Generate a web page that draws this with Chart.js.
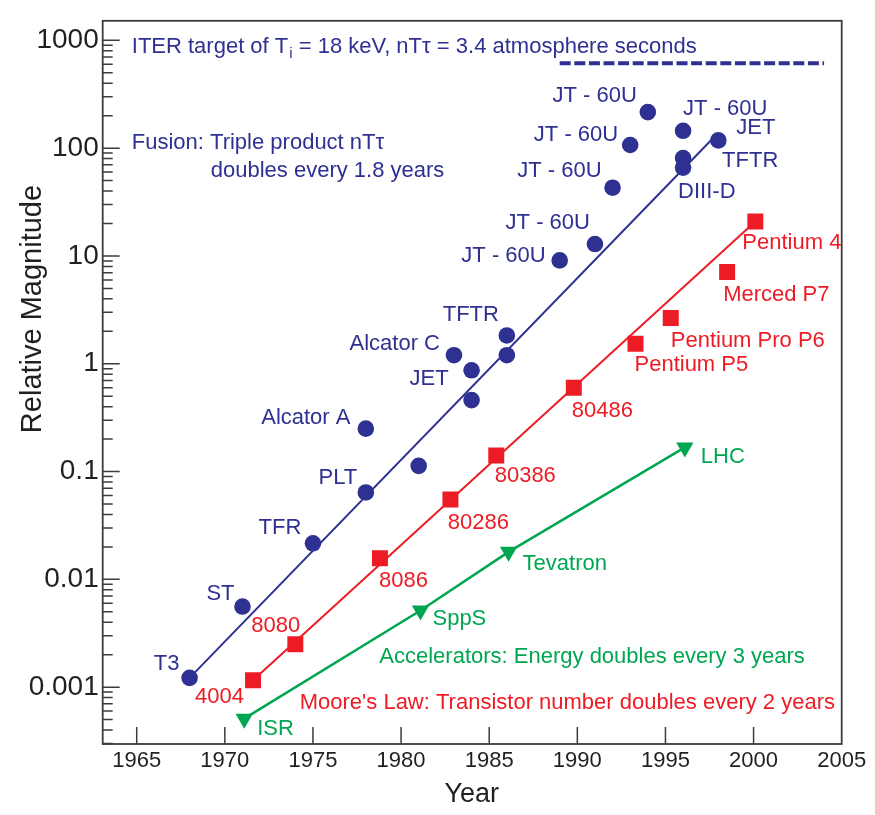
<!DOCTYPE html>
<html><head><meta charset="utf-8">
<script src="https://cdn.jsdelivr.net/npm/chart.js@4.4.0/dist/chart.umd.min.js"></script>
<style>html,body{margin:0;padding:0;background:#fff}</style>
</head><body>
<canvas id="c" width="875" height="815" style="display:block;width:875px;height:815px"></canvas>
<script>
// ---------- data ----------
const xTickYears = [1965,1970,1975,1980,1985,1990,1995,2000,2005];
const yTickValues = [0.001,0.01,0.1,1,10,100,1000];
const yTickLabels = ['0.001','0.01','0.1','1','10','100','1000'];

const fusionYears  = [1968,1971,1975,1978,1978,1981,1983,1984,1984,1986,1986,1989,1991,1992,1993,1994,1996,1996,1996,1998];
const fusionValues = [0.00122,0.0056,0.0216,0.064,0.25,0.113,1.2,0.87,0.46,1.83,1.2,9.1,12.9,43,107,216,145,81,66,118];
const fusionNames  = ['T3','ST','TFR','PLT','Alcator A','','Alcator C','JET','','TFTR','','JT - 60U','JT - 60U','JT - 60U','JT - 60U','JT - 60U','JT - 60U','TFTR','DIII-D','JET'];
const fusionTrendYears  = [1968.0, 1997.6];
const fusionTrendValues = [0.00122, 119];

const mooreYears  = [1971.6,1974.0,1978.8,1982.8,1985.4,1989.8,1993.3,1995.3,1998.5,2000.1];
const mooreValues = [0.00116,0.0025,0.0157,0.055,0.141,0.6,1.53,2.66,7.1,20.9];
const mooreNames  = ['4004','8080','8086','80286','80386','80486','Pentium P5','Pentium Pro P6','Merced P7','Pentium 4'];
const mooreTrendYears  = [1971.6, 2000.1];
const mooreTrendValues = [0.00116, 20.9];

const accelYears  = [1971.1,1981.1,1986.1,1996.1];
const accelValues = [0.00051,0.00514,0.018,0.1675];
const accelNames  = ['ISR','SppS','Tevatron','LHC'];

const iterYears  = [1989.0, 2004.0];
const iterValues = [614, 614];

// ---------- styling / layout ----------
const BLUE = '#2e3192', RED = '#ed1c24', GREEN = '#00a651', TXT = '#231f20', AX = '#3c3c3c';
const FONT = '"Liberation Sans", Arial, Helvetica, sans-serif';
const LFS = 22;

// [align, dx, dy] relative to the point pixel
const fusionLabelLayout = [
  ['center',-23,-14],['center',-22,-13],['center',-33,-15],['center',-28,-15],['center',-60,-11],null,
  ['right',-14,-11],['right',-23,9],null,['center',-36,-21],null,
  ['right',-14,-4],['right',-5,-21],['right',-11,-17],['right',-12,-10],['right',-11,-16],['left',0,-22],
  ['left',39,3],['left',-5,24],['left',18,-12]
];
const mooreLabelLayout = [
  ['center',-33.5,17],['center',-19.5,-18],['center',23.5,23],['center',28,23.5],['center',29,20],['center',28.5,23],
  ['left',-1,21],['left',0,22.5],['left',-4,23],['left',-13,21.7]
];
const accelLabelLayout = [['left',13,10],['left',12,8],['left',14,12],['left',16,10]];

const notes = [
  {text:'Fusion: Triple product nTτ', x:1964.72, y:111.5, align:'left', color:BLUE},
  {text:'doubles every 1.8 years', x:1969.2, y:62.1, align:'left', color:BLUE},
  {text:'Accelerators: Energy doubles every 3 years', x:2002.91, y:0.00191, align:'right', color:GREEN},
  {text:"Moore's Law: Transistor number doubles every 2 years", x:2004.62, y:0.000708, align:'right', color:RED}
];
const iterNote = {x:1964.72, y:869};

function pts(xs, ys){ return xs.map((x,i)=>({x:x, y:ys[i]})); }

function txt(ctx, s, px, py, align, color, fs){
  ctx.font = fs + 'px ' + FONT;
  ctx.fillStyle = color; ctx.textAlign = align; ctx.textBaseline = 'middle';
  ctx.fillText(s, px, py);
}

const decor = {
  id: 'decor',
  afterDatasetsDraw(chart){
    const ctx = chart.ctx, a = chart.chartArea, xs = chart.scales.x, ys = chart.scales.y;
    ctx.save();
    // ticks (inward)
    ctx.strokeStyle = AX; ctx.lineWidth = 1.5;
    ctx.beginPath();
    for (let d = -4; d <= 3; d++) {
      for (let m = 1; m <= 9; m++) {
        const v = m * Math.pow(10, d);
        if (v < ys.min || v > ys.max) continue;
        const py = ys.getPixelForValue(v);
        const len = (m === 1) ? 17 : 10;
        ctx.moveTo(a.left, py); ctx.lineTo(a.left + len, py);
      }
    }
    xTickYears.forEach(yr => {
      if (yr >= xs.max) return;
      const px = xs.getPixelForValue(yr);
      ctx.moveTo(px, a.bottom); ctx.lineTo(px, a.bottom - 17);
    });
    ctx.stroke();
    // frame
    ctx.lineWidth = 1.8;
    ctx.strokeRect(a.left, a.top, a.right - a.left, a.bottom - a.top);

    // point labels
    const lab = (xsA, ysA, names, layout, color) => {
      names.forEach((n, i) => {
        if (!n || !layout[i]) return;
        const px = xs.getPixelForValue(xsA[i]), py = ys.getPixelForValue(ysA[i]);
        txt(ctx, n, px + layout[i][1], py + layout[i][2], layout[i][0], color, LFS);
      });
    };
    lab(fusionYears, fusionValues, fusionNames, fusionLabelLayout, BLUE);
    lab(mooreYears, mooreValues, mooreNames, mooreLabelLayout, RED);
    lab(accelYears, accelValues, accelNames, accelLabelLayout, GREEN);

    notes.forEach(n => txt(ctx, n.text, xs.getPixelForValue(n.x), ys.getPixelForValue(n.y), n.align, n.color, LFS));

    // ITER note with subscript
    let px = xs.getPixelForValue(iterNote.x); const py = ys.getPixelForValue(iterNote.y);
    const p1 = 'ITER target of T', p3 = ' = 18 keV, nTτ = 3.4 atmosphere seconds';
    txt(ctx, p1, px, py, 'left', BLUE, LFS);
    ctx.font = LFS + 'px ' + FONT; px += ctx.measureText(p1).width + 1;
    txt(ctx, 'i', px, py + 7, 'left', BLUE, 15);
    ctx.font = '15px ' + FONT; px += ctx.measureText('i').width;
    txt(ctx, p3, px, py, 'left', BLUE, LFS);

    // axis titles
    txt(ctx, 'Year', (a.left + a.right) / 2 - 0.5, 795, 'center', TXT, 27);
    ctx.translate(33, 309); ctx.rotate(-Math.PI / 2);
    txt(ctx, 'Relative Magnitude', 0, 0, 'center', TXT, 29);
    ctx.restore();
  }
};

new Chart(document.getElementById('c'), {
  type: 'scatter',
  data: { datasets: [
    {label:'Fusion', data:pts(fusionYears, fusionValues), pointStyle:'circle', pointRadius:8.3, pointBackgroundColor:BLUE, pointBorderColor:BLUE, pointBorderWidth:0, showLine:false},
    {label:'Moore', data:pts(mooreYears, mooreValues), pointStyle:'rect', pointRadius:11.3, pointBackgroundColor:RED, pointBorderColor:RED, pointBorderWidth:0, showLine:false},
    {label:'Accelerators', data:pts(accelYears, accelValues), pointStyle:'triangle', pointRotation:180, pointRadius:10, pointBackgroundColor:GREEN, pointBorderColor:GREEN, pointBorderWidth:0, showLine:true, borderColor:GREEN, borderWidth:2.5, tension:0},
    {label:'Fusion trend', data:pts(fusionTrendYears, fusionTrendValues), showLine:true, pointRadius:0, borderColor:BLUE, borderWidth:2},
    {label:'Moore trend', data:pts(mooreTrendYears, mooreTrendValues), showLine:true, pointRadius:0, borderColor:RED, borderWidth:2},
    {label:'ITER', data:pts(iterYears, iterValues), showLine:true, pointRadius:0, borderColor:BLUE, borderWidth:4, borderDash:[11,3.6]}
  ]},
  options: {
    responsive:false, animation:false, devicePixelRatio:1, events:[],
    layout:{padding:{left:0, top:5, right:33.3, bottom:0}},
    plugins:{legend:{display:false}, tooltip:{enabled:false}},
    scales:{
      x:{type:'linear', min:1963.07, max:2005,
        grid:{display:false, drawTicks:false}, border:{display:false},
        afterBuildTicks(s){ s.ticks = xTickYears.map(v => ({value:v})); },
        afterFit(s){ s.height = 71; },
        ticks:{autoSkip:false, maxRotation:0, padding:4, color:TXT, font:{family:FONT, size:22},
          callback:(v,i) => String(xTickYears[i])}
      },
      y:{type:'logarithmic', min:0.000297, max:1519,
        grid:{display:false, drawTicks:false}, border:{display:false},
        afterBuildTicks(s){ s.ticks = yTickValues.map(v => ({value:v})); },
        afterFit(s){ s.width = 102.7; },
        ticks:{autoSkip:false, padding:4, color:TXT, font:{family:FONT, size:28},
          callback:(v,i) => yTickLabels[i]}
      }
    }
  },
  plugins:[decor]
});
</script>
</body></html>
